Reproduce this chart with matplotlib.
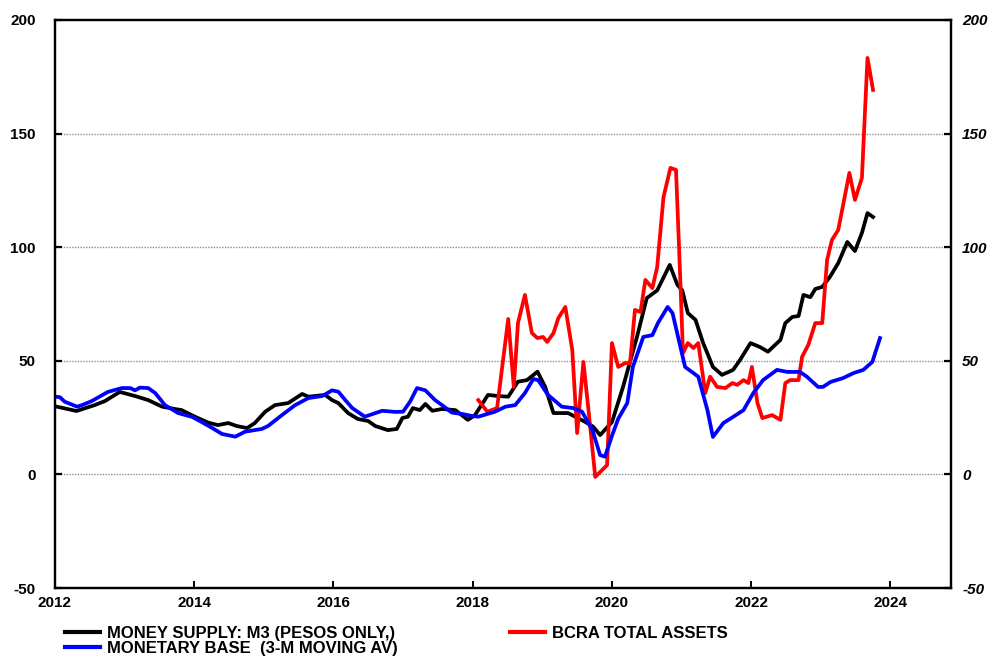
import matplotlib
matplotlib.use("Agg")
import matplotlib.pyplot as plt
from matplotlib.lines import Line2D

plt.rcParams['font.family'] = ['Liberation Sans', 'DejaVu Sans']
plt.rcParams['axes.unicode_minus'] = False

# money supply M3 (pesos only), y/y %
m3_t = [2012.00, 2012.31, 2012.57, 2012.72, 2012.93, 2013.15, 2013.34, 2013.54, 2013.72, 2013.82,
        2014.01, 2014.20, 2014.34, 2014.49, 2014.61, 2014.76, 2014.87, 2015.02, 2015.16, 2015.35,
        2015.55, 2015.64, 2015.88, 2015.98, 2016.07, 2016.21, 2016.35, 2016.50, 2016.60, 2016.78,
        2016.91, 2016.99, 2017.07, 2017.14, 2017.24, 2017.32, 2017.42, 2017.56, 2017.75, 2017.93,
        2018.03, 2018.22, 2018.36, 2018.51, 2018.65, 2018.78, 2018.93, 2019.04, 2019.16, 2019.37,
        2019.61, 2019.73, 2019.83, 2020.00, 2020.16, 2020.36, 2020.50, 2020.65, 2020.83, 2020.94,
        2021.01, 2021.09, 2021.20, 2021.31, 2021.45, 2021.58, 2021.74, 2021.84, 2021.99, 2022.13,
        2022.24, 2022.42, 2022.49, 2022.59, 2022.68, 2022.75, 2022.85, 2022.92, 2023.02, 2023.13,
        2023.25, 2023.38, 2023.49, 2023.59, 2023.67, 2023.75]
m3_v = [30.0, 27.9, 30.5, 32.3, 36.3, 34.5, 32.7, 29.8, 28.8, 28.3,
        25.4, 22.8, 21.7, 22.6, 21.3, 20.4, 22.6, 27.6, 30.5, 31.4,
        35.4, 34.2, 35.0, 32.7, 31.4, 27.0, 24.4, 23.5, 21.3, 19.5,
        20.0, 24.8, 25.4, 29.2, 28.3, 31.0, 28.0, 28.8, 28.3, 24.0,
        26.0, 35.0, 34.5, 34.2, 40.8, 41.5, 45.2, 38.6, 27.0, 27.0,
        23.2, 21.0, 17.3, 23.0, 38.6, 60.6, 77.6, 81.0, 92.2, 83.4,
        81.0, 71.0, 68.0, 57.8, 47.3, 43.8, 46.0, 50.4, 57.8, 56.0,
        54.0, 59.2, 66.6, 69.3, 69.7, 79.0, 78.0, 81.6, 82.5, 86.9,
        93.0, 102.3, 98.3, 106.3, 115.0, 113.3]

# monetary base, 3-month moving average
mb_t = [2012.00, 2012.07, 2012.14, 2012.32, 2012.39, 2012.53, 2012.76, 2012.96, 2013.08, 2013.15,
        2013.22, 2013.34, 2013.44, 2013.58, 2013.77, 2013.97, 2014.11, 2014.26, 2014.40, 2014.59,
        2014.73, 2014.97, 2015.06, 2015.26, 2015.45, 2015.64, 2015.84, 2015.98, 2016.07, 2016.17,
        2016.27, 2016.45, 2016.70, 2016.89, 2017.00, 2017.10, 2017.20, 2017.32, 2017.46, 2017.56,
        2017.70, 2017.85, 2017.99, 2018.08, 2018.32, 2018.47, 2018.61, 2018.75, 2018.87, 2018.94,
        2019.08, 2019.28, 2019.44, 2019.57, 2019.72, 2019.83, 2019.90, 2020.00, 2020.09, 2020.22,
        2020.30, 2020.45, 2020.58, 2020.66, 2020.80, 2020.87, 2020.95, 2021.05, 2021.17, 2021.24,
        2021.37, 2021.45, 2021.60, 2021.74, 2021.89, 2022.03, 2022.17, 2022.37, 2022.52, 2022.70,
        2022.80, 2022.96, 2023.03, 2023.14, 2023.32, 2023.47, 2023.61, 2023.74, 2023.78, 2023.85]
mb_v = [34.2, 34.0, 32.0, 29.8, 30.5, 32.3, 36.3, 38.0, 38.0, 37.0,
        38.2, 38.0, 35.8, 30.5, 27.0, 25.3, 23.0, 20.4, 17.8, 16.6,
        18.8, 20.0, 21.3, 26.1, 30.5, 33.6, 34.5, 37.0, 36.4, 32.7,
        29.2, 25.4, 28.0, 27.5, 27.6, 32.0, 38.0, 37.0, 32.7, 30.5,
        27.2, 26.6, 25.7, 25.4, 27.6, 29.8, 30.5, 35.8, 42.0, 41.5,
        35.0, 29.8, 29.2, 27.6, 19.5, 8.5, 7.8, 17.0, 24.5, 31.4,
        47.3, 60.5, 61.3, 66.6, 73.7, 71.0, 60.5, 47.3, 44.6, 43.0,
        28.4, 16.5, 22.6, 25.3, 28.3, 35.8, 41.5, 46.0, 45.1, 45.1,
        43.0, 38.5, 38.5, 40.7, 42.4, 44.6, 46.0, 49.5, 53.4, 60.0]

# BCRA total assets
bcra_t = [2018.08, 2018.21, 2018.35, 2018.51, 2018.59, 2018.65, 2018.75, 2018.85, 2018.93, 2019.01,
          2019.07, 2019.16, 2019.23, 2019.33, 2019.43, 2019.50, 2019.59, 2019.66, 2019.76, 2019.93,
          2020.00, 2020.09, 2020.19, 2020.26, 2020.33, 2020.41, 2020.48, 2020.58, 2020.65, 2020.74,
          2020.84, 2020.92, 2020.98, 2021.02, 2021.09, 2021.17, 2021.24, 2021.34, 2021.41, 2021.51,
          2021.63, 2021.73, 2021.80, 2021.89, 2021.96, 2022.01, 2022.09, 2022.16, 2022.30, 2022.42,
          2022.49, 2022.56, 2022.68, 2022.73, 2022.82, 2022.92, 2023.02, 2023.09, 2023.16, 2023.25,
          2023.41, 2023.49, 2023.59, 2023.67, 2023.75]
bcra_v = [32.7, 27.6, 29.2, 68.4, 38.5, 66.6, 79.0, 62.2, 60.0, 60.5,
          58.3, 62.2, 68.8, 73.7, 54.8, 18.2, 49.5, 29.2, -1.1, 4.1,
          57.8, 47.3, 49.0, 49.0, 72.4, 71.5, 85.6, 82.0, 91.3, 122.0,
          134.9, 134.0, 86.9, 53.4, 57.8, 55.6, 57.8, 35.8, 43.0, 38.5,
          38.0, 40.2, 39.4, 41.5, 40.2, 47.3, 31.4, 24.8, 26.1, 24.0,
          40.2, 41.5, 41.5, 51.7, 57.0, 66.6, 66.6, 94.4, 103.2, 107.6,
          132.7, 120.8, 130.5, 183.3, 169.2]

x_ticks = [2012, 2014, 2016, 2018, 2020, 2022, 2024]
y_ticks = [-50, 0, 50, 100, 150, 200]

fig = plt.figure(figsize=(9.92, 6.57), dpi=100)
ax = fig.add_axes([0.0554, 0.105, 0.9033, 0.8646])

ax.plot(m3_t, m3_v, color='black', lw=2.7, zorder=3)
ax.plot(bcra_t, bcra_v, color='#ff0000', lw=2.7, zorder=3)
ax.plot(mb_t, mb_v, color='#0000ff', lw=2.7, zorder=4)

ax.set_xlim(2012, 2024.87)
ax.set_ylim(-50, 200)
ax.set_xticks(x_ticks)
ax.set_yticks(y_ticks)
for g in [0, 50, 100, 150]:
    ax.axhline(g, color='#8c8c8c', lw=1.0, ls=(0, (1, 1)), zorder=1)

for s in ax.spines.values():
    s.set_linewidth(1.6)
ax.tick_params(axis='y', direction='in', length=5, width=1.6, pad=14, labelsize=11)
ax.tick_params(axis='x', direction='in', length=5, width=1.4, pad=6, labelsize=11)
for lab in ax.get_xticklabels() + ax.get_yticklabels():
    lab.set_fontweight('bold')

ax2 = ax.twinx()
ax2.set_ylim(-50, 200)
ax2.set_yticks(y_ticks)
ax2.tick_params(axis='y', direction='in', length=5, width=1.6, pad=8, labelsize=11)
for lab in ax2.get_yticklabels():
    lab.set_fontweight('bold')
    lab.set_fontstyle('italic')
for s in ax2.spines.values():
    s.set_linewidth(1.6)

h1 = Line2D([], [], color='black', lw=3)
h2 = Line2D([], [], color='#0000ff', lw=3)
h3 = Line2D([], [], color='#ff0000', lw=3)
leg_font = {'weight': 'bold', 'size': 12}
fig.legend([h1, h2], ['MONEY SUPPLY: M3 (PESOS ONLY,)', 'MONETARY BASE  (3-M MOVING AV)'],
           loc='upper left', bbox_to_anchor=(0.0655, 0.047), frameon=False, prop=leg_font,
           handlelength=2.1, handletextpad=0.45, labelspacing=0.0, borderpad=0, borderaxespad=0)
fig.legend([h3], ['BCRA TOTAL ASSETS'],
           loc='upper left', bbox_to_anchor=(0.514, 0.047), frameon=False, prop=leg_font,
           handlelength=2.1, handletextpad=0.45, borderpad=0, borderaxespad=0)

fig.savefig('out.png', dpi=100)
